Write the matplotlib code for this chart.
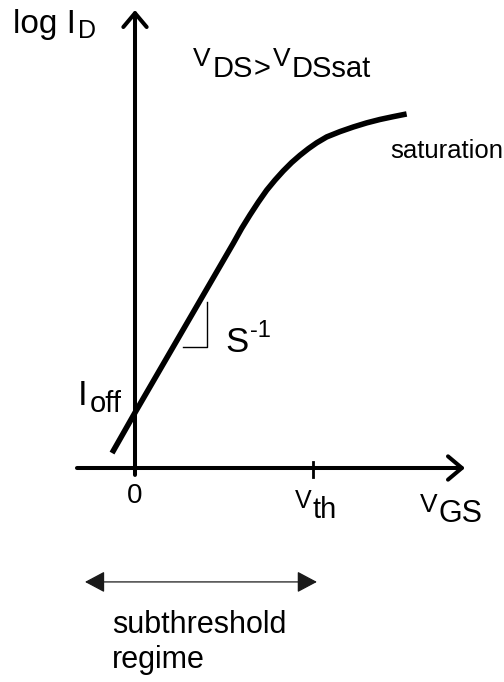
import matplotlib
matplotlib.use("Agg")
import matplotlib.pyplot as plt
import numpy as np

plt.rcParams['font.family'] = ['Liberation Sans', 'DejaVu Sans']

# sketch of log(Id) vs Vgs, x in units of Vth
vth = 1.0
vgs = [-0.129, 0.0, 0.552, 0.599, 0.646, 0.693, 0.740, 0.787, 0.833, 0.880,
       0.927, 0.974, 1.021, 1.077, 1.152, 1.227, 1.302, 1.376, 1.451, 1.526]
log_id = [0.084, 0.311, 1.262, 1.346, 1.422, 1.494, 1.561, 1.618, 1.669, 1.716,
          1.757, 1.794, 1.827, 1.860, 1.890, 1.916, 1.939, 1.958, 1.974, 1.989]

# little slope triangle under the straight part
tri_x = [0.270, 0.404, 0.404]
tri_y = [0.680, 0.680, 0.933]

# subthreshold range marked under the axis
sub_range = [-0.281, 1.022]

fig = plt.figure(figsize=(5.04, 6.82), dpi=100)
ax = fig.add_axes([0, 0, 1, 1])
ax.set_xlim(-135 / 178, 369 / 178)
ax.set_ylim(-214 / 178, 468 / 178)
ax.axis('off')

ax.plot(vgs, log_id, color='black', lw=4.0, solid_capstyle='butt',
        solid_joinstyle='round')
ax.plot(tri_x, tri_y, color='black', lw=1.0)

# axes drawn as arrows
axarrow = dict(arrowstyle='->,head_length=0.5,head_width=0.42', lw=2.9,
               color='black', shrinkA=0, shrinkB=0, mutation_scale=20)
ax.annotate('', xy=(0, 2.573), xytext=(0, -0.039), arrowprops=axarrow)
ax.annotate('', xy=(1.854, 0), xytext=(-0.326, 0), arrowprops=axarrow)
ax.plot([vth, vth], [-0.051, 0.034], color='black', lw=2.0)

ax.annotate('', xy=(sub_range[1], -0.640), xytext=(sub_range[0], -0.640),
            arrowprops=dict(arrowstyle='<|-|>,head_length=0.62,head_width=0.33',
                            lw=0.9, color='#1a1a1a', shrinkA=0, shrinkB=0,
                            mutation_scale=20))


def chain(x, y, parts, gap=1.5):
    # parts: (text, fontsize, raise above the base line in data units)
    r = fig.canvas.get_renderer()
    for s, size, dy in parts:
        t = ax.text(x, y + dy, s, fontsize=size, va='baseline')
        bb = t.get_window_extent(r)
        x = ax.transData.inverted().transform((bb.x1 + gap, bb.y0))[0]


chain(-0.685, 2.444, [('log I', 24, 0), ('D', 18, -0.028)], gap=2)
chain(0.326, 2.197, [('V', 19, 0.062), ('DS', 21, 0), ('>', 21, 0),
                     ('V', 19, 0.062), ('DSsat', 21, 0)], gap=1.5)

ax.text(1.433, 1.742, 'saturation', fontsize=18.5, va='baseline')

chain(-0.320, 0.354, [('I', 25, 0), ('off', 21, -0.039)], gap=2)
chain(0.506, 0.652, [('S', 25, 0), ('-1', 17, 0.084)], gap=2)

ax.text(0.0, -0.197, '0', fontsize=20, va='baseline', ha='center')
chain(0.899, -0.281, [('V', 18, 0.056), ('th', 21, 0)], gap=1)
chain(1.601, -0.303, [('V', 19, 0.056), ('GS', 22, 0)], gap=1)

ax.text(-0.129, -0.927, 'subthreshold', fontsize=22, va='baseline')
ax.text(-0.129, -1.124, 'regime', fontsize=22, va='baseline')

fig.savefig('out.png', dpi=100)
